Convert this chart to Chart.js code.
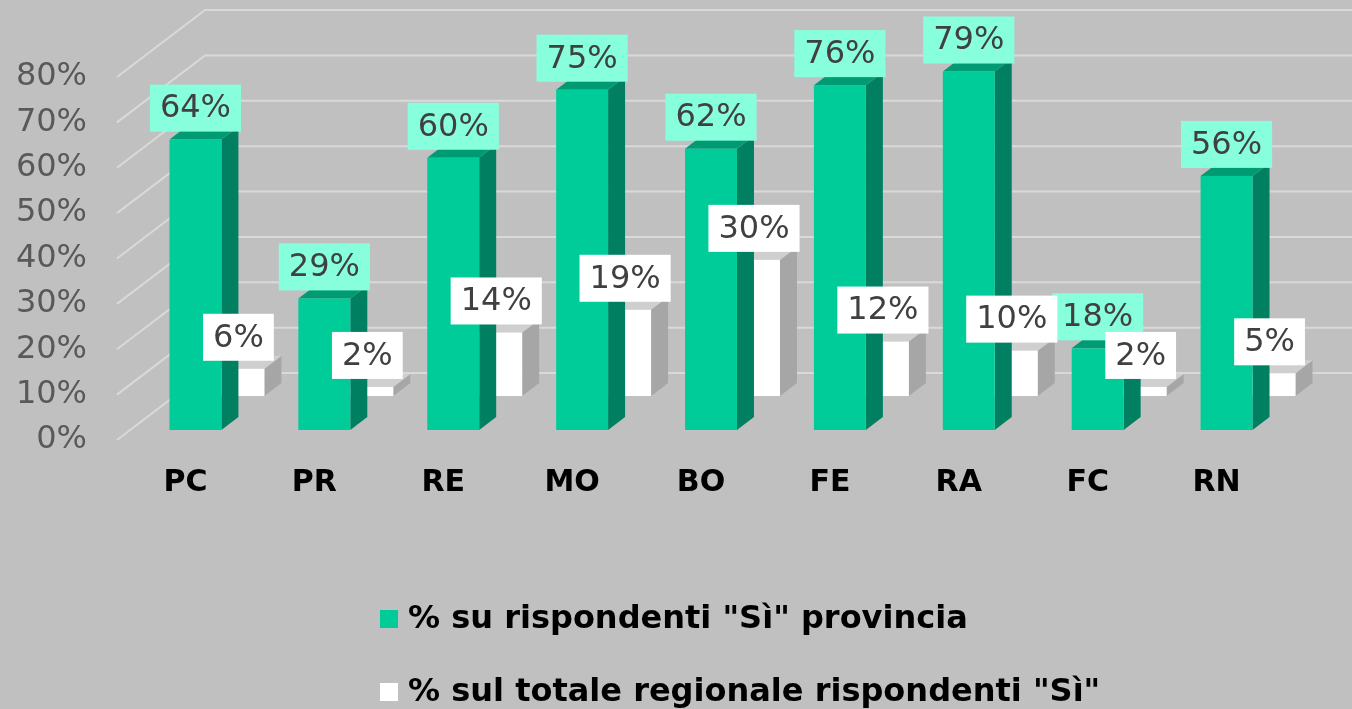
<!DOCTYPE html>
<html lang="it">
<head>
<meta charset="utf-8">
<title>Rispondenti "Sì" per provincia</title>
<script src="https://cdn.jsdelivr.net/npm/chart.js@4.4.1/dist/chart.umd.min.js"></script>
<style>
  html, body { margin: 0; padding: 0; background: #c0c0c0; }
  #wrap { position: relative; width: 1352px; height: 709px; overflow: hidden; }
</style>
</head>
<body>
<div id="wrap"><canvas id="chart"></canvas></div>
<script>
const province = ["PC", "PR", "RE", "MO", "BO", "FE", "RA", "FC", "RN"];
const provinciaPct = [64, 29, 60, 75, 62, 76, 79, 18, 56];
const regionalePct = [6, 2, 14, 19, 30, 12, 10, 2, 5];
const yTickValues = [0, 10, 20, 30, 40, 50, 60, 70, 80];
const seriesLabels = ['% su rispondenti "Sì" provincia', '% sul totale regionale rispondenti "Sì"'];

const FONT = '"DejaVu Sans", Verdana, sans-serif';
const WALL = { dx: 88, dy: -67 };        // depth of the side wall / floor
const DEPTH = { dx: 17, dy: -13 };       // depth of one bar
const faces = [
  { front: "#00cc99", side: "#008060", top: "#009a73", label: "#88ffdc", off: { dx: 10, dy: -10 } },
  { front: "#ffffff", side: "#a6a6a6", top: "#cfcfcf", label: "#ffffff", off: { dx: 53, dy: -44 } },
];

function box3d(ctx, l, r, t, b, f) {
  const { dx, dy } = DEPTH;
  ctx.fillStyle = f.side;
  ctx.beginPath();
  ctx.moveTo(r, t); ctx.lineTo(r + dx, t + dy); ctx.lineTo(r + dx, b + dy); ctx.lineTo(r, b);
  ctx.closePath(); ctx.fill();
  ctx.fillStyle = f.top;
  ctx.beginPath();
  ctx.moveTo(l, t); ctx.lineTo(l + dx, t + dy); ctx.lineTo(r + dx, t + dy); ctx.lineTo(r, t);
  ctx.closePath(); ctx.fill();
  ctx.fillStyle = f.front;
  ctx.fillRect(l, t, r - l, b - t);
}

function valueLabel(ctx, text, cx, bottom, bg) {
  ctx.font = `32px ${FONT}`;
  const w = ctx.measureText(text).width + 20, h = 47;
  ctx.fillStyle = bg;
  ctx.fillRect(cx - w / 2, bottom - h, w, h);
  ctx.fillStyle = "#404040";
  ctx.textAlign = "center";
  ctx.textBaseline = "middle";
  ctx.fillText(text, cx, bottom - h / 2 + 1);
}

const bars3d = {
  id: "bars3d",
  beforeDatasetsDraw(chart) {
    const { ctx, chartArea, scales } = chart;
    // back wall + side wall grid
    ctx.save();
    ctx.strokeStyle = "#d9d9d9";
    ctx.lineWidth = 2;
    for (const v of yTickValues) {
      const y = scales.y.getPixelForValue(v);
      const x0 = chartArea.left - 4;
      ctx.beginPath();
      ctx.moveTo(x0, y);
      ctx.lineTo(x0 + WALL.dx, y + WALL.dy);
      ctx.lineTo(chart.width, y + WALL.dy);
      ctx.stroke();
    }
    // back row (white) first, then front row (green)
    [1, 0].forEach((di) => {
      const f = faces[di];
      chart.getDatasetMeta(di).data.forEach((bar) => {
        const l = bar.x - bar.width / 2 + f.off.dx, r = bar.x + bar.width / 2 + f.off.dx;
        box3d(ctx, l, r, bar.y + f.off.dy, bar.base + f.off.dy, f);
      });
    });
    // labels: green row, then white row on top
    [0, 1].forEach((di) => {
      const f = faces[di];
      const values = chart.data.datasets[di].data;
      chart.getDatasetMeta(di).data.forEach((bar, i) => {
        valueLabel(ctx, `${values[i]}%`, bar.x + f.off.dx, bar.y + f.off.dy - 8, f.label);
      });
    });
    ctx.restore();
    return false;
  },
  afterDraw(chart) {
    const { ctx, chartArea } = chart;
    ctx.save();
    ctx.font = `bold 32px ${FONT}`;
    ctx.textAlign = "left";
    ctx.textBaseline = "middle";
    chart.data.datasets.forEach((ds, i) => {
      const cy = chartArea.bottom + 179 + i * 73;
      ctx.fillStyle = faces[i].front;
      ctx.fillRect(380, cy - 9, 18, 18);
      ctx.fillStyle = "#000";
      ctx.fillText(ds.label, 408, cy + 1);
    });
    ctx.restore();
  },
};

new Chart(document.getElementById("chart"), {
  type: "bar",
  data: {
    labels: province,
    datasets: [
      { label: seriesLabels[0], data: provinciaPct, backgroundColor: faces[0].front },
      { label: seriesLabels[1], data: regionalePct, backgroundColor: faces[1].front },
    ],
  },
  options: {
    responsive: true,
    maintainAspectRatio: false,
    animation: false,
    layout: { padding: { top: 77, right: 71, bottom: 179, left: 0 } },
    datasets: { bar: { grouped: false, categoryPercentage: 1, barPercentage: 0.403 } },
    plugins: { legend: { display: false }, tooltip: { enabled: false } },
    scales: {
      x: {
        grid: { display: false, drawTicks: false },
        border: { display: false },
        ticks: { color: "#000", padding: 25, font: { family: FONT, size: 30, weight: "bold" } },
        afterFit: (scale) => { scale.height = 90; },
      },
      y: {
        min: 0, max: 80,
        grid: { display: false, drawTicks: false },
        border: { display: false },
        afterBuildTicks: (scale) => { scale.ticks = yTickValues.map((value) => ({ value })); },
        ticks: { color: "#595959", padding: 34, font: { family: FONT, size: 32 }, callback: (v) => `${v}%` },
        afterFit: (scale) => { scale.width = 121; },
      },
    },
  },
  plugins: [bars3d],
});
</script>
</body>
</html>
